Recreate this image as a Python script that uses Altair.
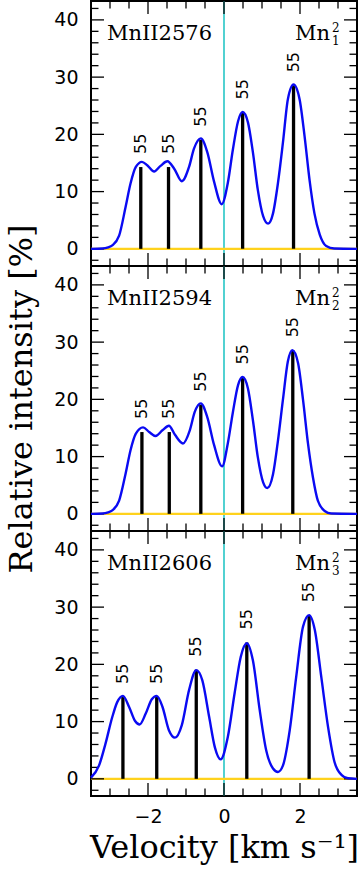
import altair as alt
import pandas as pd

# ---- panel identification -------------------------------------------------
panel_names = ["MnII2576", "MnII2594", "MnII2606"]
panel_index = ["1", "2", "3"]
mass_label = "55"

# ---- hyperfine components: velocity (km/s) and relative intensity (%) ------
comp_v_2576 = [-2.19, -1.46, -0.61, 0.49, 1.83]
comp_v_2594 = [-2.16, -1.44, -0.61, 0.49, 1.81]
comp_v_2606 = [-2.66, -1.77, -0.73, 0.60, 2.24]
comp_intensity = [14.29, 14.29, 19.05, 23.81, 28.57]

# ---- blended line profiles -------------------------------------------------
prof_v_2576 = [-3.5, -3.2, -3.05, -2.94, -2.76, -2.59, -2.46, -2.32, -2.16, -2.02,
               -1.84, -1.67, -1.49, -1.31, -1.11, -0.92, -0.79, -0.61, -0.44, -0.26,
               -0.06, 0.10, 0.235, 0.37, 0.49, 0.63, 0.76, 0.89, 1.03, 1.16,
               1.29, 1.42, 1.55, 1.68, 1.83, 1.99, 2.12, 2.25, 2.38, 2.52,
               2.69, 2.90, 3.5]
prof_i_2576 = [0.0, 0.05, 0.25, 0.6, 2.3, 7.3, 11.4, 14.3, 15.2, 14.6,
               13.5, 14.5, 15.3, 14.0, 11.8, 14.3, 17.5, 19.3, 16.9, 11.7,
               7.8, 11.5, 17.4, 22.3, 23.9, 22.1, 16.9, 10.3, 5.7, 4.4,
               6.2, 11.5, 18.5, 26.1, 28.7, 26.1, 19.7, 12.1, 6.2, 2.5,
               0.5, 0.05, 0.0]

prof_v_2594 = [-3.5, -3.2, -3.05, -2.94, -2.76, -2.59, -2.46, -2.32, -2.13, -1.97,
               -1.80, -1.62, -1.45, -1.29, -1.08, -0.90, -0.77, -0.61, -0.44, -0.26,
               -0.05, 0.10, 0.235, 0.37, 0.49, 0.63, 0.76, 0.89, 1.03, 1.14,
               1.29, 1.42, 1.55, 1.68, 1.80, 1.95, 2.08, 2.21, 2.34, 2.47,
               2.65, 2.82, 3.5]
prof_i_2594 = [0.0, 0.05, 0.25, 0.6, 2.3, 7.0, 11.1, 14.0, 15.1, 14.3,
               13.6, 14.6, 15.4, 13.8, 12.3, 14.6, 17.8, 19.3, 16.9, 12.0,
               8.3, 12.3, 17.8, 22.5, 23.9, 21.9, 16.4, 9.9, 5.5, 4.5,
               6.9, 12.8, 19.9, 26.6, 28.6, 26.3, 19.9, 12.3, 6.4, 2.3,
               0.5, 0.05, 0.0]

prof_v_2606 = [-3.5, -3.29, -3.12, -2.94, -2.81, -2.66, -2.50, -2.34, -2.22, -2.06,
               -1.90, -1.77, -1.62, -1.45, -1.29, -1.11, -0.92, -0.73, -0.57, -0.39,
               -0.24, -0.09, 0.10, 0.28, 0.44, 0.60, 0.76, 0.94, 1.11, 1.29,
               1.42, 1.55, 1.73, 1.90, 2.08, 2.24, 2.39, 2.56, 2.74, 2.91,
               3.09, 3.26, 3.5]
prof_i_2606 = [0.2, 2.3, 6.1, 10.8, 13.4, 14.5, 12.6, 10.1, 9.5, 11.4,
               13.9, 14.5, 12.6, 8.5, 7.2, 9.4, 15.5, 19.0, 17.2, 10.8,
               5.5, 3.4, 7.3, 15.0, 21.3, 23.7, 20.7, 12.0, 5.0, 1.8,
               1.2, 2.3, 8.5, 17.8, 26.6, 28.6, 26.0, 17.8, 9.0, 2.9,
               0.7, 0.1, 0.0]

# ---- axis ticks -------------------------------------------------------------
x_major_ticks = [-2, 0, 2]
x_minor_ticks = [-3, -2.5, -1.5, -1, -0.5, 0.5, 1, 1.5, 2.5, 3]
y_major_ticks = [0, 10, 20, 30, 40]
y_minor_ticks = [-2, 2, 4, 6, 8, 12, 14, 16, 18, 22, 24, 26, 28, 32, 34, 36, 38, 42]
rest_velocity = [0.0]
zero_level = [0.0]

W, H = 266, 265
MAJOR, MINOR = 13, 7.5
BLUE = "#0a0af2"
GOLD = "#ffd21c"
CYAN = "#26c6c6"
LEFT, TOP, PAGE_W, PAGE_H = 91, 1, 361, 869

xs = alt.Scale(domain=[-3.5, 3.5], nice=False, zero=False)
ys = alt.Scale(domain=[-3, 43.3], nice=False, zero=False)

LABEL_STYLE = dict(domain=False, ticks=False, grid=False, labelFont="DejaVu Sans",
                   labelFontSize=19, labelColor="black", labelFlush=False)
TITLE_STYLE = dict(titleFont="DejaVu Serif", titleFontSize=32,
                   titleFontWeight="normal", titleColor="black")


def axes_for(bottom, with_ytitle):
    if bottom:
        x_axis = alt.Axis(values=x_major_ticks, labelPadding=11,
                          title="Velocity [km s\u207b\u00b9]", titleY=61,
                          titleBaseline="alphabetic", **LABEL_STYLE, **TITLE_STYLE)
    else:
        x_axis = alt.Axis(values=x_major_ticks, labels=False, domain=False,
                          ticks=False, grid=False, title=None)
    if with_ytitle:
        y_axis = alt.Axis(values=y_major_ticks, labelPadding=13,
                          title="Relative intensity [%]", titleAngle=270,
                          titleAlign="center", titleBaseline="middle",
                          titleX=-70, titleY=H / 2, **LABEL_STYLE, **TITLE_STYLE)
    else:
        y_axis = alt.Axis(values=y_major_ticks, labelPadding=13, title=None,
                          **LABEL_STYLE)
    return x_axis, y_axis


def build_panel(k, comp_v, prof_v, prof_i, bottom, with_ytitle):
    x_axis, y_axis = axes_for(bottom, with_ytitle)

    def X(f):
        return alt.X(f, scale=xs, axis=x_axis)

    def Y(f):
        return alt.Y(f, scale=ys, axis=y_axis)

    layers = []
    # rest-frame velocity marker and zero-intensity level
    layers.append(alt.Chart(pd.DataFrame({"v": rest_velocity})).mark_rule(
        color=CYAN, strokeWidth=1.6).encode(x=X("v:Q")))
    layers.append(alt.Chart(pd.DataFrame({"i": zero_level})).mark_rule(
        color=GOLD, strokeWidth=2.2).encode(y=Y("i:Q")))

    # inward ticks on all four sides of the frame
    for vals, ln in ((x_major_ticks, MAJOR), (x_minor_ticks, MINOR)):
        d = pd.DataFrame({"v": vals})
        for y0, y1 in ((0, ln), (H, H - ln)):
            layers.append(alt.Chart(d).mark_rule(color="black", strokeWidth=1.3).encode(
                x=X("v:Q"), y=alt.value(y0), y2=alt.value(y1)))
    for vals, ln in ((y_major_ticks, MAJOR), (y_minor_ticks, MINOR)):
        d = pd.DataFrame({"i": vals})
        for x0, x1 in ((0, ln), (W, W - ln)):
            layers.append(alt.Chart(d).mark_rule(color="black", strokeWidth=1.3).encode(
                y=Y("i:Q"), x=alt.value(x0), x2=alt.value(x1)))

    # component sticks, blended profile and isotope labels
    comps = pd.DataFrame({"v": comp_v, "i": comp_intensity,
                          "lab": [mass_label] * len(comp_v)})
    layers.append(alt.Chart(comps).mark_rule(color="black", strokeWidth=3.3).encode(
        x=X("v:Q"), y=Y("i:Q"), y2=alt.datum(0)))

    layers.append(alt.Chart(pd.DataFrame({"v": prof_v, "i": prof_i})).mark_line(
        color=BLUE, strokeWidth=2.4, interpolate="monotone").encode(
        x=X("v:Q"), y=Y("i:Q")))

    layers.append(alt.Chart(comps).mark_text(
        angle=270, align="left", baseline="middle", dx=13,
        font="DejaVu Sans", fontSize=16, color="black").encode(
        x=X("v:Q"), y=Y("i:Q"), text="lab:N"))

    # transition name and ion / component tag
    serif = dict(font="DejaVu Serif", color="black", baseline="alphabetic")
    layers.append(alt.Chart(pd.DataFrame({"s": [panel_names[k]]})).mark_text(
        align="left", fontSize=21, **serif).encode(
        x=alt.value(16), y=alt.value(39), text="s:N"))
    layers.append(alt.Chart(pd.DataFrame({"s": ["Mn"]})).mark_text(
        align="right", fontSize=21, **serif).encode(
        x=alt.value(239), y=alt.value(39), text="s:N"))
    layers.append(alt.Chart(pd.DataFrame({"s": ["2"]})).mark_text(
        align="left", fontSize=12, **serif).encode(
        x=alt.value(241), y=alt.value(31), text="s:N"))
    layers.append(alt.Chart(pd.DataFrame({"s": [panel_index[k]]})).mark_text(
        align="left", fontSize=12, **serif).encode(
        x=alt.value(241), y=alt.value(44), text="s:N"))

    return alt.layer(*layers).properties(width=W, height=H)


p1 = build_panel(0, comp_v_2576, prof_v_2576, prof_i_2576, False, False)
p2 = build_panel(1, comp_v_2594, prof_v_2594, prof_i_2594, False, True)
p3 = build_panel(2, comp_v_2606, prof_v_2606, prof_i_2606, True, False)

# fixed page geometry: the concatenated view reports a width of one panel and
# no height, so the padding alone spans the rest of the page
chart = alt.vconcat(p1, p2, p3, spacing=0, bounds="flush").properties(
    autosize=alt.AutoSizeParams(type="none"),
    padding={"left": LEFT, "top": TOP,
             "right": PAGE_W - LEFT - W, "bottom": PAGE_H - TOP},
).configure_view(stroke="black", strokeWidth=2)

chart.save("out.html", embed_options={"renderer": "svg", "actions": False})
